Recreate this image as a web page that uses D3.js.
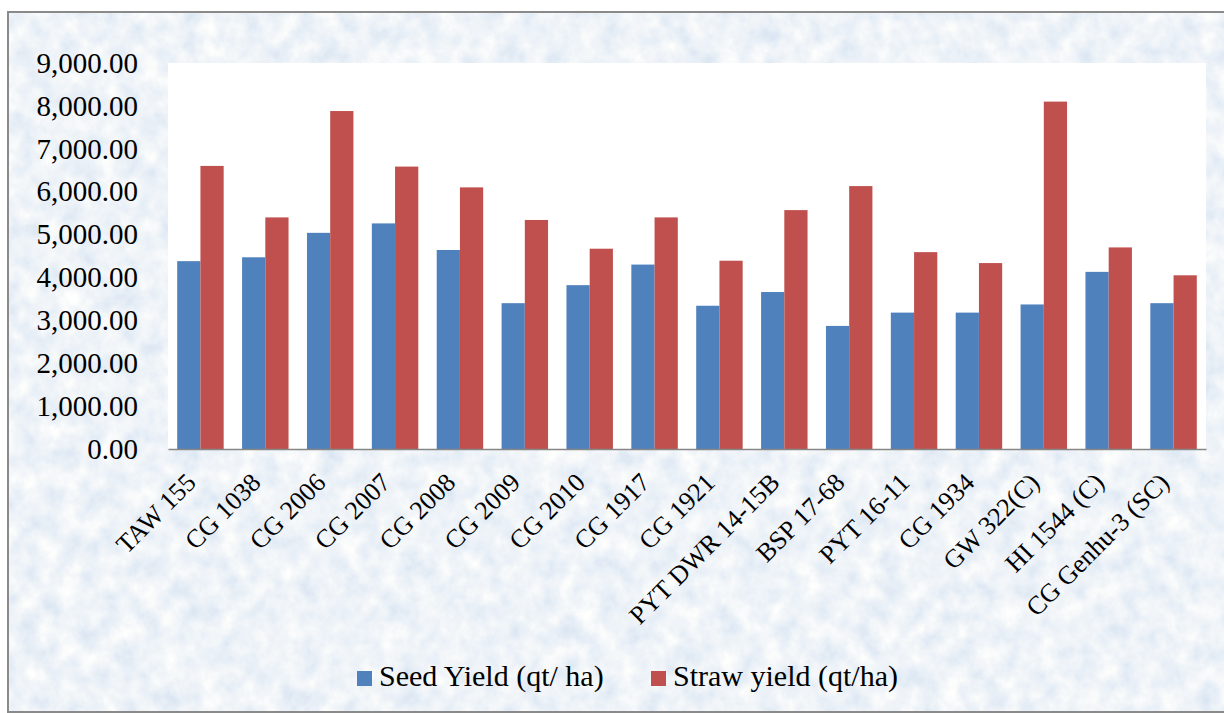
<!DOCTYPE html>
<html>
<head>
<meta charset="utf-8">
<script src="https://cdn.jsdelivr.net/npm/d3@7"></script>
<style>
  html, body { margin: 0; padding: 0; background: #ffffff; }
  svg { display: block; }
</style>
</head>
<body>
<div id="chart"></div>
<script>
// Wheat genotypes and their yields
const categories = ["TAW 155", "CG 1038", "CG 2006", "CG 2007", "CG 2008", "CG 2009", "CG 2010", "CG 1917",
  "CG 1921", "PYT DWR 14-15B", "BSP 17-68", "PYT 16-11", "CG 1934", "GW 322(C)", "HI 1544 (C)", "CG Genhu-3 (SC)"];
const seedYield = [4380, 4470, 5040, 5260, 4640, 3400, 3820, 4300, 3340, 3660, 2870, 3180, 3180, 3370, 4130, 3400];
const strawYield = [6600, 5400, 7880, 6585, 6100, 5340, 4670, 5400, 4390, 5570, 6130, 4590, 4335, 8100, 4700, 4050];
const seriesNames = ["Seed Yield (qt/ ha)", "Straw yield (qt/ha)"];
const seriesColors = ["#4f81bd", "#c0504d"];
const yTicks = [0, 1000, 2000, 3000, 4000, 5000, 6000, 7000, 8000, 9000];

const W = 1224, H = 713;
const plot = { left: 168, right: 1206, top: 63, bottom: 449 };
const font = "'Liberation Serif', 'Times New Roman', serif";

const svg = d3.select("#chart").append("svg").attr("width", W).attr("height", H);

// Mottled light-blue paper texture for the chart area
const defs = svg.append("defs");
const flt = defs.append("filter").attr("id", "paper")
  .attr("x", 0).attr("y", 0).attr("width", 1).attr("height", 1)
  .attr("filterUnits", "objectBoundingBox");
flt.append("feTurbulence").attr("type", "fractalNoise")
  .attr("baseFrequency", "0.05 0.045").attr("numOctaves", 4).attr("seed", 7).attr("result", "n");
flt.append("feColorMatrix").attr("in", "n").attr("type", "matrix")
  .attr("values", "0.40 0 0 0 0.66  0.28 0 0 0 0.76  0.12 0 0 0 0.88  0 0 0 0 1");

svg.append("rect").attr("x", 8).attr("y", 12).attr("width", W - 6).attr("height", 700)
  .attr("filter", "url(#paper)");
svg.append("rect").attr("x", 8).attr("y", 12).attr("width", W).attr("height", 700)
  .attr("fill", "none").attr("stroke", "#8a8a8a").attr("stroke-width", 2);

// Plot area
svg.append("rect").attr("x", plot.left).attr("y", plot.top)
  .attr("width", plot.right - plot.left).attr("height", plot.bottom - plot.top)
  .attr("fill", "#ffffff");

const x0 = d3.scaleBand().domain(categories).range([plot.left, plot.right])
  .paddingInner(0.284).paddingOuter(0.142);
const x1 = d3.scaleBand().domain([0, 1]).range([0, x0.bandwidth()]);
const y = d3.scaleLinear().domain([0, 9000]).range([plot.bottom, plot.top]);

const rows = categories.map((c, i) => ({ cat: c, vals: [seedYield[i], strawYield[i]] }));

const groups = svg.append("g").selectAll("g").data(rows).join("g")
  .attr("transform", d => `translate(${x0(d.cat)},0)`);
groups.selectAll("rect").data(d => d.vals.map((v, k) => ({ v, k }))).join("rect")
  .attr("x", d => x1(d.k))
  .attr("width", x1.bandwidth())
  .attr("y", d => y(d.v))
  .attr("height", d => y(0) - y(d.v))
  .attr("fill", d => seriesColors[d.k]);

// Y axis labels
const yAxis = d3.axisLeft(y).tickValues(yTicks).tickSize(0).tickPadding(30)
  .tickFormat(d3.format(",.2f"));
const gy = svg.append("g").attr("transform", `translate(${plot.left},0)`).call(yAxis);
gy.select(".domain").remove();
gy.selectAll("text").attr("font-family", font).attr("font-size", 29).attr("fill", "#000");

// X axis line and rotated labels
const xAxis = d3.axisBottom(x0).tickSize(0).tickPadding(0);
const gx = svg.append("g").attr("transform", `translate(0,${plot.bottom})`).call(xAxis);
gx.select(".domain").attr("stroke", "#868686").attr("stroke-width", 1.5);
gx.selectAll("text")
  .attr("font-family", font).attr("font-size", 26).attr("fill", "#000")
  .attr("text-anchor", "end")
  .attr("dy", null).attr("y", 0)
  .attr("transform", "translate(-3,35) rotate(-45)");

// Legend
const legendX = [357, 651];
const lg = svg.append("g").selectAll("g").data(seriesNames).join("g")
  .attr("transform", (d, i) => `translate(${legendX[i]},671)`);
lg.append("rect").attr("width", 15).attr("height", 15).attr("fill", (d, i) => seriesColors[i]);
lg.append("text").attr("x", 22).attr("y", 15)
  .attr("font-family", font).attr("font-size", 30).attr("fill", "#000")
  .text(d => d);
</script>
</body>
</html>
